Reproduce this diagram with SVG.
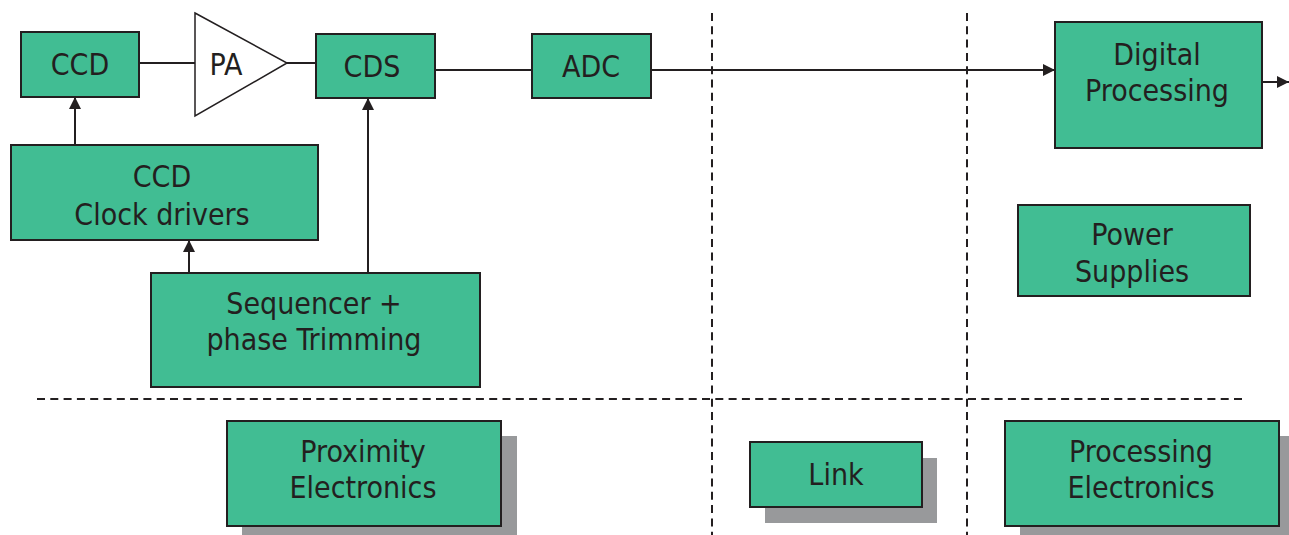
<svg xmlns="http://www.w3.org/2000/svg" width="1289" height="535" viewBox="0 0 1289 535">
<defs>
<style>
.box{fill:#41BD93;stroke:#231F20;stroke-width:2}
.sh{fill:#98999B}
.t{font-family:"DejaVu Sans Condensed","DejaVu Sans",sans-serif;font-size:30px;fill:#231F20;text-anchor:middle}
.ln{stroke:#231F20;stroke-width:2;fill:none}
.dash{stroke:#231F20;stroke-width:2;fill:none;stroke-dasharray:8 5.3}
</style>
<marker id="ah" viewBox="0 0 12 12" refX="12" refY="6" markerWidth="12" markerHeight="12" markerUnits="userSpaceOnUse" orient="auto">
<path d="M0,0 L12,6 L0,12 z" fill="#231F20"/>
</marker>
</defs>
<rect width="1289" height="535" fill="#fff"/>
<g id="dividers">
<line class="dash" x1="712" y1="13" x2="712" y2="535"/>
<line class="dash" x1="967" y1="13" x2="967" y2="535"/>
<line class="dash" x1="37" y1="399" x2="1243" y2="399"/>
</g>
<g id="connectors">
<line class="ln" x1="139" y1="63" x2="195" y2="63"/>
<line class="ln" x1="287" y1="63" x2="316" y2="63"/>
<line class="ln" x1="431" y1="70" x2="532" y2="70"/>
<line class="ln" x1="650" y1="70" x2="1055" y2="70" marker-end="url(#ah)"/>
<line class="ln" x1="1259" y1="82" x2="1289" y2="82" marker-end="url(#ah)"/>
<line class="ln" x1="75" y1="148" x2="75" y2="97" marker-end="url(#ah)"/>
<line class="ln" x1="189" y1="273" x2="189" y2="240" marker-end="url(#ah)"/>
<line class="ln" x1="368" y1="273" x2="368" y2="98" marker-end="url(#ah)"/>
</g>
<g id="ccd">
<rect class="box" x="21" y="32" width="118" height="65"/>
<text class="t" x="80" y="75">CCD</text>
</g>
<g id="pa">
<path d="M195,13 L287,63 L195,116 Z" fill="#fff" stroke="#231F20" stroke-width="1.5"/>
<text class="t" x="226" y="75">PA</text>
</g>
<g id="cds">
<rect class="box" x="316" y="34" width="119" height="64"/>
<text class="t" x="372" y="77">CDS</text>
</g>
<g id="adc">
<rect class="box" x="532" y="34" width="119" height="64"/>
<text class="t" x="591" y="77">ADC</text>
</g>
<g id="digital">
<rect class="box" x="1055" y="22" width="207" height="126"/>
<text class="t" x="1157" y="65">Digital</text>
<text class="t" x="1157" y="101">Processing</text>
</g>
<g id="clockdrivers">
<rect class="box" x="11" y="145" width="307" height="95"/>
<text class="t" x="162" y="187">CCD</text>
<text class="t" x="162" y="225">Clock drivers</text>
</g>
<g id="sequencer">
<rect class="box" x="151" y="273" width="329" height="114"/>
<text class="t" x="314" y="314">Sequencer +</text>
<text class="t" x="314" y="350">phase Trimming</text>
</g>
<g id="power">
<rect class="box" x="1018" y="205" width="232" height="91"/>
<text class="t" x="1132" y="245">Power</text>
<text class="t" x="1132" y="282">Supplies</text>
</g>
<g id="proximity">
<rect class="sh" x="242" y="436" width="275" height="99"/>
<rect class="box" x="227" y="421" width="274" height="105"/>
<text class="t" x="363" y="462">Proximity</text>
<text class="t" x="363" y="498">Electronics</text>
</g>
<g id="link">
<rect class="sh" x="765" y="458" width="172" height="65"/>
<rect class="box" x="750" y="442" width="172" height="65"/>
<text class="t" x="836" y="485">Link</text>
</g>
<g id="processing">
<rect class="sh" x="1020" y="436" width="274" height="99"/>
<rect class="box" x="1005" y="421" width="274" height="105"/>
<text class="t" x="1141" y="462">Processing</text>
<text class="t" x="1141" y="498">Electronics</text>
</g>
</svg>
